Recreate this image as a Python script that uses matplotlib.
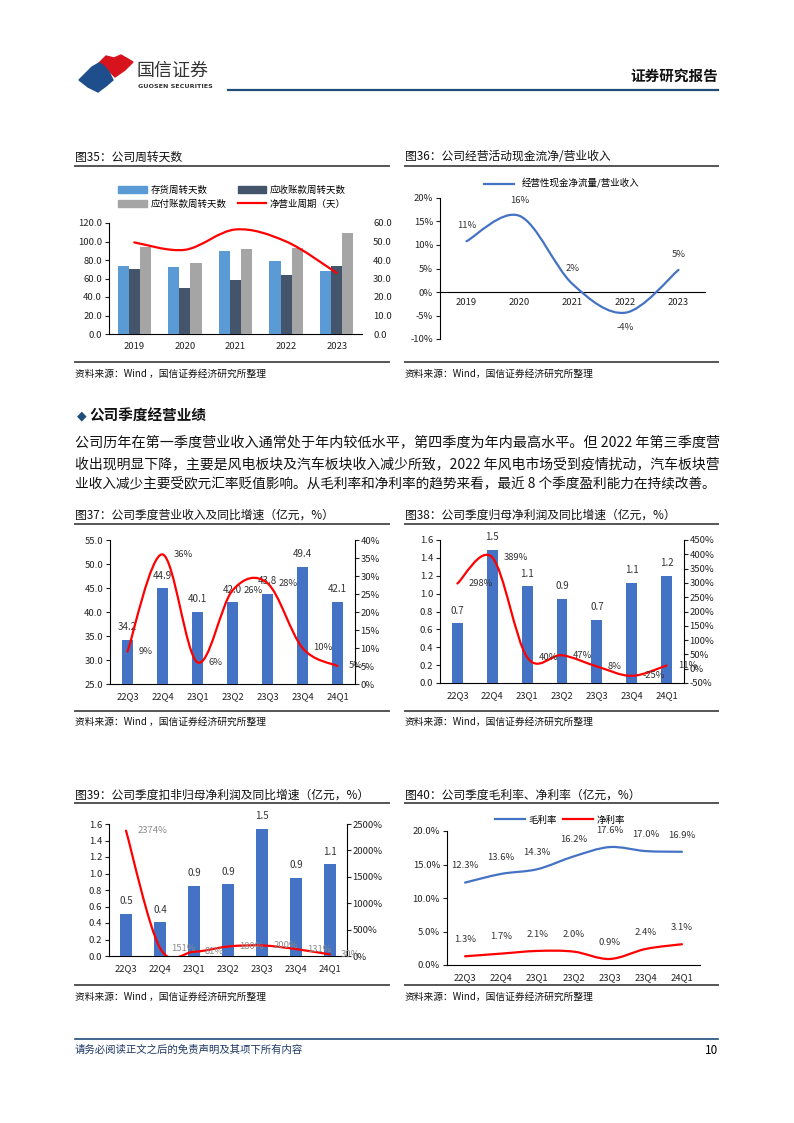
import matplotlib
matplotlib.use("Agg")
import matplotlib.pyplot as plt
from matplotlib.path import Path
from matplotlib.patches import PathPatch, Polygon, Patch
from matplotlib.lines import Line2D
import numpy as np

plt.rcParams['font.family'] = ['Noto Sans CJK SC', 'DejaVu Sans']
plt.rcParams['axes.unicode_minus'] = False

W, H = 794, 1123

# ---- data ----
years = ["2019", "2020", "2021", "2022", "2023"]
inventory_days = [73.5, 72.5, 89.5, 79.0, 68.5]
receivable_days = [70.0, 50.0, 58.5, 64.0, 73.5]
payable_days = [94.0, 77.0, 92.0, 93.0, 109.0]
net_cycle = [49.5, 45.5, 56.5, 50.0, 33.0]

cash_ratio = [10.8, 16.2, 1.7, -4.4, 4.7]
cash_labels = ["11%", "16%", "2%", "-4%", "5%"]

quarters = ["22Q3", "22Q4", "23Q1", "23Q2", "23Q3", "23Q4", "24Q1"]
revenue = [34.2, 44.9, 40.1, 42.0, 43.8, 49.4, 42.1]
revenue_yoy = [9, 36, 6, 26, 28, 10, 5]

net_profit = [0.67, 1.49, 1.08, 0.94, 0.71, 1.12, 1.20]
net_profit_labels = ["0.7", "1.5", "1.1", "0.9", "0.7", "1.1", "1.2"]
net_profit_yoy = [298, 389, 40, 47, 8, -25, 11]

deducted_profit = [0.51, 0.41, 0.85, 0.87, 1.54, 0.95, 1.11]
deducted_labels = ["0.5", "0.4", "0.9", "0.9", "1.5", "0.9", "1.1"]
deducted_yoy = [2374, 151, 81, 180, 200, 131, 30]

gross_margin = [12.3, 13.6, 14.3, 16.2, 17.6, 17.0, 16.9]
net_margin = [1.3, 1.7, 2.1, 2.0, 0.9, 2.4, 3.1]

BLUE = "#4472C4"
RED = "#FF0000"


def rect(x0, y0, x1, y1):
    return [x0 / W, 1 - y1 / H, (x1 - x0) / W, (y1 - y0) / H]


def smooth(ax, xs, ys, color, lw=1.6):
    # excel-style smoothed line through the points (bezier segments)
    pts = list(zip(xs, ys))
    n = len(pts)
    verts = [pts[0]]
    codes = [Path.MOVETO]
    for i in range(n - 1):
        p0 = pts[i - 1] if i > 0 else pts[i]
        p1, p2 = pts[i], pts[i + 1]
        p3 = pts[i + 2] if i + 2 < n else pts[i + 1]
        c1 = (p1[0] + (p2[0] - p0[0]) / 6, p1[1] + (p2[1] - p0[1]) / 6)
        c2 = (p2[0] - (p3[0] - p1[0]) / 6, p2[1] - (p3[1] - p1[1]) / 6)
        verts += [c1, c2, p2]
        codes += [Path.CURVE4] * 3
    ax.add_patch(PathPatch(Path(verts, codes), fill=False, edgecolor=color,
                           lw=lw, capstyle="round", zorder=5))


def style(ax, right=False):
    for s in ["top", "right"]:
        ax.spines[s].set_visible(False)
    ax.spines["left"].set_linewidth(0.8)
    ax.spines["bottom"].set_linewidth(0.8)
    ax.tick_params(axis="y", labelsize=6.8, length=3, width=0.8, pad=2,
                   colors="#222222")
    ax.tick_params(axis="x", labelsize=6.8, length=0, pad=6, colors="#222222")


fig = plt.figure(figsize=(W / 100, H / 100), dpi=100)
page = fig.add_axes([0, 0, 1, 1], zorder=-5)
page.set_xlim(0, W)
page.set_ylim(H, 0)
page.axis("off")

# ---- header ----
page.add_patch(Polygon([(99, 63), (106, 56), (114, 58), (121, 55), (133, 62),
                        (125, 70), (115, 77), (109, 71), (104, 66)],
                       closed=True, color="#D7141E"))
page.add_patch(Polygon([(79, 80), (92, 67), (99, 63), (104, 66), (109, 72),
                        (113, 80), (106, 86), (98, 92), (88, 87)],
                       closed=True, color="#1F4E8C"))
page.text(137, 71, "国信证券", fontsize=13, color="#333333", va="center")
page.text(138, 86, "GUOSEN SECURITIES", fontsize=4.6, color="#333333",
          va="center", fontweight="bold", family="DejaVu Sans")
page.plot([228, 718], [90, 90], color="#1F4E79", lw=1.6)
page.text(718, 76, "证券研究报告", fontsize=10.5, fontweight="bold",
          ha="right", va="center", color="#111111")


def frame(x0, x1, ytitle, yline, ybottom, ysrc, title, src):
    page.text(x0, ytitle, title, fontsize=8.5, va="center", color="#111111")
    page.plot([x0, x1], [yline, yline], color="#555555", lw=1.4)
    page.plot([x0, x1], [ybottom, ybottom], color="#555555", lw=1.4)
    page.text(x0, ysrc, src, fontsize=7, va="center", color="#111111")


src1 = "资料来源：Wind ，国信证券经济研究所整理"
src2 = "资料来源：Wind，国信证券经济研究所整理"
frame(75, 389, 157, 166, 362, 374, "图35：公司周转天数", src1)
frame(405, 718, 157, 166, 362, 374, "图36：公司经营活动现金流净/营业收入", src2)
frame(75, 389, 515, 524, 711, 722, "图37：公司季度营业收入及同比增速（亿元，%）", src1)
frame(405, 718, 515, 524, 711, 722, "图38：公司季度归母净利润及同比增速（亿元，%）", src2)
frame(75, 389, 795, 803, 985, 997, "图39：公司季度扣非归母净利润及同比增速（亿元，%）", src1)
frame(405, 718, 795, 803, 985, 997, "图40：公司季度毛利率、净利率（亿元，%）", src2)

# ---- section text ----
page.text(77, 416, "◆", fontsize=9, color="#1F4E79", va="center",
          family="DejaVu Sans")
page.text(89, 416, "公司季度经营业绩", fontsize=10.5, fontweight="bold",
          va="center", color="#111111")
para = ["公司历年在第一季度营业收入通常处于年内较低水平，第四季度为年内最高水平。但 2022 年第三季度营",
        "收出现明显下降，主要是风电板块及汽车板块收入减少所致，2022 年风电市场受到疫情扰动，汽车板块营",
        "业收入减少主要受欧元汇率贬值影响。从毛利率和净利率的趋势来看，最近 8 个季度盈利能力在持续改善。"]
para_y = [443, 464, 484]
fig.canvas.draw()
rend = fig.canvas.get_renderer()
for line, y in zip(para, para_y):
    t = page.text(75, y, line, fontsize=10, va="center", color="#111111")
    w = t.get_window_extent(rend).width
    t.set_fontsize(10 * 643 / w)

# ---- footer ----
page.plot([75, 718], [1039, 1039], color="#1F4E79", lw=1.2)
page.text(75, 1050, "请务必阅读正文之后的免责声明及其项下所有内容", fontsize=7.5,
          style="italic", color="#1F3864", va="center")
page.text(718, 1050, "10", fontsize=8.5, ha="right", va="center")

# ---- chart 35 ----
ax = fig.add_axes(rect(109, 223, 362, 334))
x = np.arange(len(years))
bw = 0.22
ax.bar(x - bw, inventory_days, bw, color="#5B9BD5", zorder=3)
ax.bar(x, receivable_days, bw, color="#44546A", zorder=3)
ax.bar(x + bw, payable_days, bw, color="#A5A5A5", zorder=3)
ax.set_ylim(0, 120)
ax.set_xlim(-0.5, 4.5)
ax.set_yticks(np.arange(0, 121, 20))
ax.set_yticklabels(["%.1f" % v for v in np.arange(0, 121, 20)])
ax.set_xticks(x)
ax.set_xticklabels(years)
style(ax)
ax2 = ax.twinx()
ax2.set_ylim(0, 60)
ax2.set_xlim(-0.5, 4.5)
for s in ax2.spines.values():
    s.set_visible(False)
ax2.set_yticks(np.arange(0, 61, 10))
ax2.set_yticklabels(["%.1f" % v for v in np.arange(0, 61, 10)])
ax2.tick_params(axis="y", labelsize=6.8, length=0, pad=8, colors="#222222")
smooth(ax2, x, net_cycle, RED, lw=1.6)
# legend fills column-wise, so order gives rows: 存货/应收, 应付/净营业
handles = [Patch(color="#5B9BD5"), Patch(color="#A5A5A5"),
           Patch(color="#44546A"), Line2D([], [], color=RED, lw=1.6)]
labels = ["存货周转天数", "应付账款周转天数", "应收账款周转天数", "净营业周期（天）"]
ax.legend(handles, labels, ncol=2, loc="center", frameon=False, fontsize=6.8,
          bbox_to_anchor=(232 / W, 1 - 197 / H), bbox_transform=fig.transFigure,
          handlelength=3.0, handleheight=0.7, columnspacing=1.2,
          labelspacing=0.5, handletextpad=0.4)

# ---- chart 36 ----
ax = fig.add_axes(rect(440, 198, 705, 339))
x = np.arange(len(years))
ax.set_xlim(-0.5, 4.5)
ax.set_ylim(-10, 20)
smooth(ax, x, cash_ratio, BLUE, lw=1.6)
ax.set_yticks(np.arange(-10, 21, 5))
ax.set_yticklabels(["%d%%" % v for v in np.arange(-10, 21, 5)])
style(ax)
ax.spines["bottom"].set_position(("data", 0))
ax.set_xticks(x)
ax.set_xticklabels(years)
ax.tick_params(axis="x", pad=4)
for xi, v, lab in zip(x, cash_ratio, cash_labels):
    off = -11 if v < 0 else 11
    ax.annotate(lab, (xi, v), xytext=(0, off), textcoords="offset points",
                ha="center", va="center", fontsize=6.8, color="#333333")
ax.legend([Line2D([], [], color=BLUE, lw=1.6)], ["经营性现金净流量/营业收入"],
          loc="center", frameon=False, fontsize=6.8, handlelength=3.2,
          bbox_to_anchor=(562 / W, 1 - 184 / H), bbox_transform=fig.transFigure)


def bar_line_chart(box, bars, bar_labels, ylim, yticks, yfmt, line, rlim,
                   rticks, bw, label_color="#333333"):
    ax = fig.add_axes(rect(*box))
    x = np.arange(len(quarters))
    ax.bar(x, bars, bw, color=BLUE, zorder=3)
    ax.set_xlim(-0.5, len(quarters) - 0.5)
    ax.set_ylim(*ylim)
    ax.set_yticks(yticks)
    ax.set_yticklabels([yfmt % v for v in yticks])
    ax.set_xticks(x)
    ax.set_xticklabels(quarters)
    style(ax)
    for xi, v, lab in zip(x, bars, bar_labels):
        ax.annotate(lab, (xi, v), xytext=(0, 9), textcoords="offset points",
                    ha="center", va="center", fontsize=7, color="#333333")
    ax2 = ax.twinx()
    ax2.set_xlim(-0.5, len(quarters) - 0.5)
    ax2.set_ylim(*rlim)
    ax2.set_yticks(rticks)
    ax2.set_yticklabels(["%d%%" % v for v in rticks])
    for s in ["top", "left", "bottom"]:
        ax2.spines[s].set_visible(False)
    ax2.spines["right"].set_linewidth(0.8)
    ax2.tick_params(axis="y", labelsize=6.8, length=3, width=0.8, pad=1,
                    colors="#222222")
    smooth(ax2, x, line, RED, lw=1.6)
    for xi, v in zip(x, line):
        ax2.annotate("%d%%" % v, (xi, v), xytext=(8, 0),
                     textcoords="offset points", ha="left", va="center",
                     fontsize=6.8, color=label_color, zorder=6)
    return ax


# ---- chart 37 ----
bar_line_chart((110, 540, 355, 684), revenue, ["%.1f" % v for v in revenue],
               (25, 55), np.arange(25, 56, 5), "%.1f", revenue_yoy, (0, 40),
               np.arange(0, 41, 5), 0.3)

# ---- chart 38 ----
bar_line_chart((440, 540, 684, 683), net_profit, net_profit_labels,
               (0, 1.6), np.arange(0, 1.61, 0.2), "%.1f", net_profit_yoy,
               (-50, 450), np.arange(-50, 451, 50), 0.31)

# ---- chart 39 ----
bar_line_chart((109, 824, 347, 956), deducted_profit, deducted_labels,
               (0, 1.6), np.arange(0, 1.61, 0.2), "%.1f", deducted_yoy,
               (0, 2500), np.arange(0, 2501, 500), 0.34,
               label_color="#8C8C8C")

# ---- chart 40 ----
ax = fig.add_axes(rect(447, 831, 700, 965))
x = np.arange(len(quarters))
ax.set_xlim(-0.5, 6.5)
ax.set_ylim(0, 20)
smooth(ax, x, gross_margin, BLUE, lw=1.6)
smooth(ax, x, net_margin, RED, lw=1.6)
ax.set_yticks(np.arange(0, 21, 5))
ax.set_yticklabels(["%.1f%%" % v for v in np.arange(0, 21, 5)])
ax.set_xticks(x)
ax.set_xticklabels(quarters)
style(ax)
for series in (gross_margin, net_margin):
    for xi, v in zip(x, series):
        ax.annotate("%.1f%%" % v, (xi, v), xytext=(0, 12),
                    textcoords="offset points", ha="center", va="center",
                    fontsize=6.8, color="#333333")
ax.legend([Line2D([], [], color=BLUE, lw=1.6), Line2D([], [], color=RED, lw=1.6)],
          ["毛利率", "净利率"], ncol=2, loc="center", frameon=False,
          fontsize=6.8, handlelength=3.2, columnspacing=0.6, handletextpad=0.4,
          bbox_to_anchor=(560 / W, 1 - 820 / H), bbox_transform=fig.transFigure)

fig.savefig("out.png", dpi=100)
